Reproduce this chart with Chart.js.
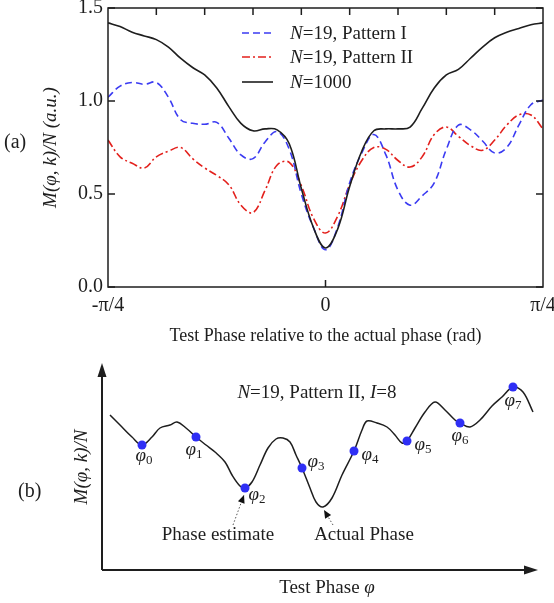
<!DOCTYPE html>
<html><head><meta charset="utf-8">
<script src="https://cdn.jsdelivr.net/npm/chart.js@4.4.1/dist/chart.umd.min.js"></script>
<style>
html,body{margin:0;padding:0;background:#fff;}
#wrap{position:relative;width:554px;height:603px;overflow:hidden;}
.box{position:absolute;left:0;top:0;}
</style></head><body>
<div id="wrap">
<div class="box" style="width:554px;height:603px"><canvas id="cb"></canvas></div>
<div class="box" style="width:554px;height:350px"><canvas id="ca"></canvas></div>
</div>
<script>
// ---------- Panel (a) data ----------
const phaseDeg = [-45,-42.5,-40,-37.5,-35,-32.5,-30,-27.5,-25,-22.5,-20,-17.5,-15,-12.5,-10,-7.5,-5,-2.5,0,2.5,5,7.5,10,12.5,15,17.5,20,22.5,25,27.5,30,32.5,35,37.5,40,42.5,45];
const n1000 = [1.42,1.40,1.37,1.35,1.33,1.29,1.23,1.18,1.14,1.07,0.97,0.88,0.84,0.85,0.845,0.77,0.53,0.32,0.21,0.31,0.54,0.73,0.84,0.85,0.85,0.86,0.96,1.07,1.14,1.17,1.23,1.29,1.34,1.37,1.39,1.41,1.42];
const pattern1 = [1.02,1.08,1.10,1.09,1.10,1.02,0.90,0.88,0.875,0.885,0.80,0.71,0.69,0.78,0.835,0.74,0.50,0.32,0.20,0.32,0.56,0.72,0.82,0.71,0.52,0.44,0.49,0.56,0.74,0.87,0.845,0.785,0.72,0.75,0.87,0.98,1.005];
const pattern2 = [0.79,0.70,0.665,0.64,0.70,0.73,0.75,0.69,0.64,0.60,0.55,0.44,0.40,0.52,0.656,0.67,0.545,0.37,0.29,0.38,0.55,0.68,0.75,0.74,0.68,0.645,0.70,0.82,0.86,0.81,0.76,0.735,0.79,0.87,0.925,0.925,0.85];
const legendLabels = ['=19, Pattern I','=19, Pattern II','=1000'];
const xTickValues = [-45,0,45];
const xTickLabels = ['-π/4','0','π/4'];
const yTickValues = [0,0.5,1.0,1.5];
const topTickDeg = [-35,-25,-15,-5,5,15,25,35];
const bottomTickDeg = [0];

// ---------- Panel (b) data (schematic, arbitrary units) ----------
const schemX = [8,18,30,40,50,58,68,75,84,94,104,113,123,130,138,143,150,158,166,174,181,188,194,200,208,214,221,230,240,252,260,265,275,285,293,300,305,313,323,333,343,353,358,368,378,390,400,411,421,431];
const schemY = [155,145,133,125,133,142,145,148,142,133,125,118,108,95,84,82,88,105,122,131,132,128,115,102,82,68,63,72,95,119,140,149,147,143,135,127,129,142,158,168,160,150,147,143,150,164,173,183,178,158];
const phiX = [40,94,143,200,252,305,358,411];
const phiY = [125,133,82,102,119,129,147,183];
const phiSub = ['0','1','2','3','4','5','6','7'];

const SERIF = '"Liberation Serif","Times New Roman",serif';
const BLUE = '#3b3bf2', RED = '#e3201c', INK = '#1e1e1e', PT = '#2f2ff5';
function fnt(size, italic){ return (italic?'italic ':'') + size + 'px ' + SERIF; }
function drawRich(ctx, parts, x, y, align){
  let w = 0;
  parts.forEach(p => { ctx.font = fnt(p[2]||19, p[1]); w += ctx.measureText(p[0]).width; });
  let cx = align==='center' ? x - w/2 : (align==='right' ? x - w : x);
  ctx.textAlign = 'left'; ctx.textBaseline = 'middle';
  parts.forEach(p => { ctx.font = fnt(p[2]||19, p[1]); ctx.fillText(p[0], cx, y + (p[3]||0)); cx += ctx.measureText(p[0]).width; });
}
function pts(xs, ys){ return xs.map((v,i)=>({x:v, y:ys[i]})); }

// ---------- Chart A ----------
const frameA = {
  id:'frameA',
  afterDraw(chart){
    const {ctx, chartArea:a, scales:{x, y}} = chart;
    ctx.save();
    ctx.strokeStyle = INK; ctx.lineWidth = 1.5; ctx.setLineDash([]);
    ctx.strokeRect(a.left, a.top, a.right-a.left, a.bottom-a.top);
    ctx.beginPath();
    yTickValues.forEach(v => { const py = y.getPixelForValue(v);
      ctx.moveTo(a.left, py); ctx.lineTo(a.left+7, py);
      ctx.moveTo(a.right, py); ctx.lineTo(a.right-7, py); });
    topTickDeg.forEach(v => { const px = x.getPixelForValue(v); ctx.moveTo(px, a.top); ctx.lineTo(px, a.top+7); });
    bottomTickDeg.forEach(v => { const px = x.getPixelForValue(v); ctx.moveTo(px, a.bottom); ctx.lineTo(px, a.bottom-7); });
    ctx.stroke();
    // legend
    const styles = [[BLUE,[7,4]],[RED,[8,3,2,3]],[INK,[]]];
    const rows = [33,57,82];
    legendLabels.forEach((lab,i) => {
      ctx.strokeStyle = styles[i][0]; ctx.setLineDash(styles[i][1]); ctx.lineWidth = 1.6;
      ctx.beginPath(); ctx.moveTo(242, rows[i]); ctx.lineTo(273, rows[i]); ctx.stroke();
      ctx.fillStyle = INK;
      drawRich(ctx, [['N', true, 19],[lab, false, 19]], 290, rows[i]+1, 'left');
    });
    ctx.setLineDash([]);
    ctx.fillStyle = INK;
    drawRich(ctx, [['(a)', false, 20]], 4, 143, 'left');
    ctx.restore();
  }
};

new Chart(document.getElementById('ca'), {
  type:'line',
  data:{ datasets:[
    {label:'N=1000', data:pts(phaseDeg,n1000), borderColor:INK, borderWidth:1.6, pointRadius:0, tension:0.4, fill:false},
    {label:'N=19, Pattern I', data:pts(phaseDeg,pattern1), borderColor:BLUE, borderWidth:1.6, borderDash:[7,4], pointRadius:0, tension:0.4, fill:false},
    {label:'N=19, Pattern II', data:pts(phaseDeg,pattern2), borderColor:RED, borderWidth:1.6, borderDash:[8,3,2,3], pointRadius:0, tension:0.4, fill:false}
  ]},
  options:{
    responsive:true, maintainAspectRatio:false, animation:false, devicePixelRatio:1,
    layout:{padding:{left:0,right:11,top:8,bottom:0}},
    plugins:{legend:{display:false}, tooltip:{enabled:false}},
    scales:{
      x:{ type:'linear', min:-45, max:45,
        afterBuildTicks:s => { s.ticks = xTickValues.map(v=>({value:v})); },
        ticks:{ autoSkip:false, maxRotation:0, padding:7, color:INK, font:{family:SERIF,size:20},
          callback:(v)=>{ const i = xTickValues.indexOf(v); return i>=0 ? xTickLabels[i] : ''; } },
        grid:{display:false, drawTicks:false}, border:{display:false},
        title:{display:true, text:'Test Phase relative to the actual phase (rad)', color:INK, font:{family:SERIF,size:18}, padding:{top:4,bottom:3}},
        afterFit:s => { s.height = 63; s.paddingLeft = 0; s.paddingRight = 0; }
      },
      y:{ min:0, max:1.5,
        afterBuildTicks:s => { s.ticks = yTickValues.map(v=>({value:v})); },
        ticks:{ padding:5, color:INK, font:{family:SERIF,size:20}, callback:v => Number(v).toFixed(1) },
        grid:{display:false, drawTicks:false}, border:{display:false},
        title:{display:true, text:'M(φ, k)/N (a.u.)', color:INK, font:{family:SERIF,size:19,style:'italic'}, padding:{top:40,bottom:0}},
        afterFit:s => { s.width = 108; s.paddingTop = 0; s.paddingBottom = 0; }
      }
    }
  },
  plugins:[frameA]
});

// ---------- Chart B ----------
const frameB = {
  id:'frameB',
  afterDraw(chart){
    const {ctx, chartArea:a, scales:{x, y}} = chart;
    ctx.save();
    ctx.fillStyle = INK; ctx.strokeStyle = INK; ctx.lineWidth = 2;
    // axes with arrows
    ctx.beginPath(); ctx.moveTo(a.left, a.bottom); ctx.lineTo(a.left, a.top+12); ctx.stroke();
    ctx.beginPath(); ctx.moveTo(a.left, a.top); ctx.lineTo(a.left-4.5, a.top+14); ctx.lineTo(a.left+4.5, a.top+14); ctx.closePath(); ctx.fill();
    ctx.beginPath(); ctx.moveTo(a.left, a.bottom); ctx.lineTo(a.right-12, a.bottom); ctx.stroke();
    ctx.beginPath(); ctx.moveTo(a.right, a.bottom); ctx.lineTo(a.right-14, a.bottom-4.5); ctx.lineTo(a.right-14, a.bottom+4.5); ctx.closePath(); ctx.fill();
    // phi labels
    const offs = [[2,11],[-2,13],[12,7],[14,-6],[16,4],[16,4],[0,13],[0,14]];
    phiX.forEach((v,i) => {
      const px = x.getPixelForValue(v) + offs[i][0], py = y.getPixelForValue(phiY[i]) + offs[i][1];
      ctx.fillStyle = INK;
      drawRich(ctx, [['φ', true, 19],[phiSub[i], false, 13, 5]], px, py, 'center');
    });
    // texts
    drawRich(ctx, [['N',true,19],['=19, Pattern II, ',false,19],['I',true,19],['=8',false,19]], 317, 393, 'center');
    drawRich(ctx, [['Test Phase ',false,19],['φ',true,19]], 327, 588, 'center');
    drawRich(ctx, [['(b)',false,20]], 18, 492, 'left');
    ctx.save(); ctx.translate(82, 467); ctx.rotate(-Math.PI/2);
    drawRich(ctx, [['M(φ, k)/N',true,19]], 0, 0, 'center'); ctx.restore();
    // annotations
    const p2x = x.getPixelForValue(phiX[2]), p2y = y.getPixelForValue(phiY[2]);
    let mi = 0; schemY.forEach((v,i)=>{ if (v < schemY[mi]) mi = i; });
    const mx = x.getPixelForValue(schemX[mi]), my = y.getPixelForValue(schemY[mi]);
    drawRich(ctx, [['Phase estimate',false,19]], p2x-27, p2y+47, 'center');
    drawRich(ctx, [['Actual Phase',false,19]], mx+41, my+28, 'center');
    function dotArrow(x0,y0,x1,y1){
      ctx.save(); ctx.strokeStyle='#555'; ctx.fillStyle='#111'; ctx.lineWidth=1; ctx.setLineDash([1.5,2]);
      ctx.beginPath(); ctx.moveTo(x0,y0); ctx.lineTo(x1,y1); ctx.stroke(); ctx.setLineDash([]);
      const ang = Math.atan2(y1-y0, x1-x0), L = 8, W = 3.5;
      ctx.beginPath(); ctx.moveTo(x1,y1);
      ctx.lineTo(x1 - L*Math.cos(ang) + W*Math.sin(ang), y1 - L*Math.sin(ang) - W*Math.cos(ang));
      ctx.lineTo(x1 - L*Math.cos(ang) - W*Math.sin(ang), y1 - L*Math.sin(ang) + W*Math.cos(ang));
      ctx.closePath(); ctx.fill(); ctx.restore();
    }
    dotArrow(p2x-12, p2y+37, p2x-1, p2y+7);
    dotArrow(mx+10, my+18, mx+1, my+3);
    ctx.restore();
  }
};

new Chart(document.getElementById('cb'), {
  type:'line',
  data:{ datasets:[
    {label:'phases', data:pts(phiX,phiY), showLine:false, pointRadius:4.5, pointBackgroundColor:PT, pointBorderWidth:0, borderColor:PT},
    {label:'curve', data:pts(schemX,schemY), borderColor:INK, borderWidth:1.5, pointRadius:0, tension:0.35, fill:false}
  ]},
  options:{
    responsive:true, maintainAspectRatio:false, animation:false, devicePixelRatio:1,
    layout:{padding:{left:102,right:16,top:363,bottom:33}},
    plugins:{legend:{display:false}, tooltip:{enabled:false}},
    scales:{
      x:{type:'linear', display:false, min:0, max:436},
      y:{display:false, min:0, max:207}
    }
  },
  plugins:[frameB]
});
</script>
</body></html>
